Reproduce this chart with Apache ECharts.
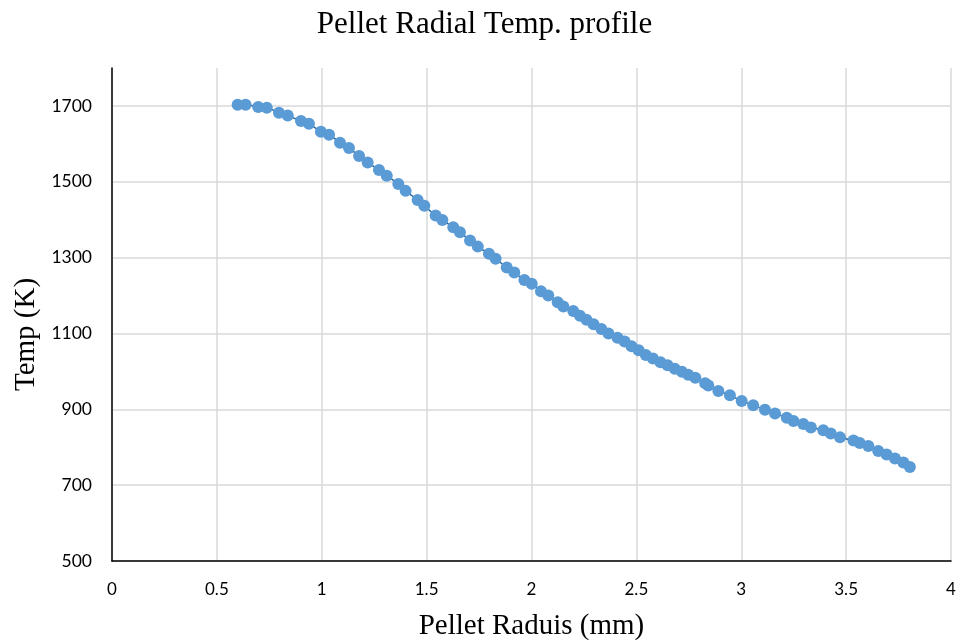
<!DOCTYPE html>
<html>
<head>
<meta charset="utf-8">
<script src="https://cdn.jsdelivr.net/npm/echarts@6/dist/echarts.min.js"></script>
<style>
  html, body { margin: 0; padding: 0; background: #fff; }
  #chart { width: 969px; height: 644px; }
</style>
</head>
<body>
<div id="chart"></div>
<script>
// radius (mm)
const radius = [
  0.599, 0.637, 0.697, 0.738, 0.796, 0.838, 0.901, 0.939, 0.996, 1.035,
  1.087, 1.130, 1.178, 1.219, 1.273, 1.310, 1.365, 1.400, 1.457, 1.489,
  1.543, 1.575, 1.627, 1.659, 1.707, 1.744, 1.797, 1.829, 1.882, 1.918,
  1.966, 2.001, 2.045, 2.080, 2.125, 2.152, 2.199, 2.231, 2.262, 2.296,
  2.333, 2.367, 2.410, 2.444, 2.477, 2.511, 2.545, 2.579, 2.615, 2.649,
  2.683, 2.717, 2.747, 2.781, 2.828, 2.843, 2.891, 2.946, 3.002, 3.057,
  3.113, 3.161, 3.217, 3.249, 3.296, 3.332, 3.391, 3.427, 3.471, 3.535,
  3.565, 3.606, 3.653, 3.693, 3.733, 3.773, 3.804
]
// temperature (K)
const temp = [
  1703, 1703, 1697, 1695, 1682, 1675, 1660, 1653, 1632, 1624,
  1603, 1589, 1568, 1551, 1531, 1516, 1494, 1476, 1452, 1437,
  1411, 1399, 1380, 1367, 1345, 1329, 1310, 1297, 1274, 1261,
  1241, 1231, 1211, 1200, 1182, 1171, 1159, 1147, 1136, 1124,
  1112, 1100, 1089, 1079, 1066, 1056, 1043, 1034, 1024, 1016,
  1007, 999, 991, 983, 969, 963, 948, 937, 922, 911,
  899, 889, 878, 869, 861, 852, 845, 836, 826, 818,
  811, 803, 790, 781, 770, 760, 748
]

const myChart = echarts.init(document.getElementById('chart'))
myChart.setOption({
  animation: false,
  title: {
    text: 'Pellet Radial Temp. profile',
    left: 'center',
    top: 4,
    textStyle: {
      fontFamily: 'Liberation Serif',
      fontWeight: 'normal',
      fontSize: 31,
      color: '#000'
    }
  },
  grid: {
    left: 112,
    right: 18,
    top: 68,
    bottom: 83,
    outerBoundsMode: 'none'
  },
  xAxis: {
    type: 'value',
    min: 0,
    max: 4,
    interval: 0.5,
    name: 'Pellet Raduis (mm)',
    nameLocation: 'middle',
    nameGap: 51,
    nameTextStyle: {
      fontFamily: 'Liberation Serif',
      fontSize: 29,
      color: '#000'
    },
    axisLine: { lineStyle: { color: '#000', width: 1.5 } },
    axisTick: { show: false },
    axisLabel: {
      margin: 20,
      fontFamily: 'Lato',
      fontSize: 17,
      color: '#000'
    },
    splitLine: {
      show: true,
      lineStyle: { color: '#d9d9d9', width: 1.5 }
    }
  },
  yAxis: {
    type: 'value',
    min: 500,
    max: 1800,
    interval: 200,
    name: 'Temp (K)',
    nameLocation: 'middle',
    nameGap: 67,
    nameTextStyle: {
      fontFamily: 'Liberation Serif',
      fontSize: 29,
      color: '#000',
      padding: [0, 40, 0, 0]
    },
    axisLine: { show: true, lineStyle: { color: '#000', width: 1.5 } },
    axisTick: { show: false },
    axisLabel: {
      margin: 20,
      fontFamily: 'Lato',
      fontSize: 17.5,
      color: '#000',
      showMaxLabel: false,
      formatter: v => String(v)
    },
    splitLine: {
      show: true,
      showMaxLine: false,
      lineStyle: { color: '#d9d9d9', width: 1.5 }
    }
  },
  series: [
    {
      type: 'line',
      smooth: true,
      data: radius.map((r, i) => [r, temp[i]]),
      symbol: 'circle',
      symbolSize: 12,
      showAllSymbol: true,
      itemStyle: { color: '#5b9bd5' },
      lineStyle: { color: '#1f5f99', width: 1.5 }
    }
  ]
})
</script>
</body>
</html>
